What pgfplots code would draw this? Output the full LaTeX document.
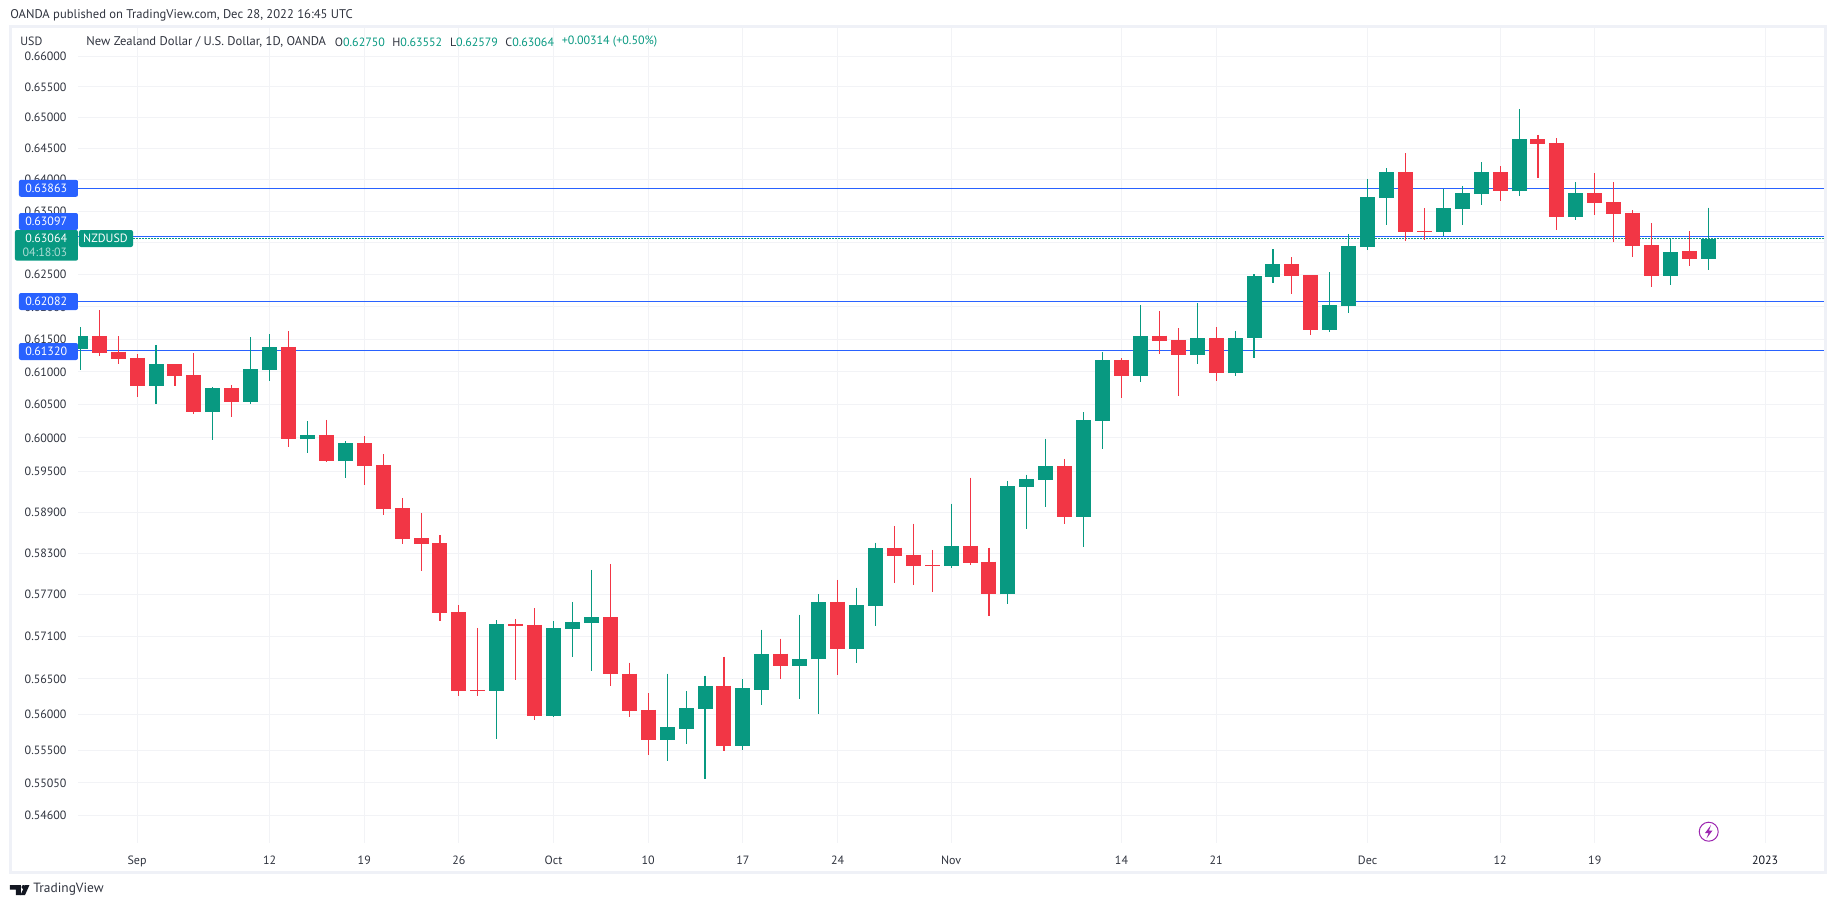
\documentclass[border=0pt]{standalone}
\usepackage{fontspec}
\setmainfont{PT Sans}
\usepackage{pgfplots}
\pgfplotsset{compat=1.18}

\definecolor{up}{HTML}{089981}
\definecolor{down}{HTML}{F23645}
\definecolor{level}{HTML}{2962FF}
\definecolor{gridc}{HTML}{F2F3F6}
\definecolor{framec}{HTML}{EFF1F7}
\definecolor{ink}{HTML}{131722}
\definecolor{soft}{HTML}{2F333E}
\definecolor{bolt}{HTML}{9C27B0}

% 1 px of the reference = 0.5pt
\newcommand{\tvfont}{\fontsize{6}{7}\selectfont}
\newcommand{\headfont}{\fontsize{6.3}{7.5}\selectfont}
% style, index, open, high, low, close
\newcommand{\candle}[6]{%
  \addplot[#1, line width=0.55pt] coordinates {(#2,#4) (#2,#5)};
  \addplot[#1, line width=7.5pt] coordinates {(#2,#3) (#2,#6)};
}
\newcommand{\lvl}[1]{%
  \addplot[level, line width=0.5pt] coordinates {(-1,#1) (93,#1)};
}

\begin{document}
\begin{tikzpicture}
\begin{axis}[
    at={(0,0)}, anchor=south west,
    scale only axis,
    width=873pt, height=407.5pt,
    ymode=log,
    xmin=-0.1215, xmax=92.11,
    ymin=0.54228, ymax=0.66468,
    axis line style={draw=none},
    major tick length=0pt,
    grid=major,
    grid style={gridc, line width=0.5pt},
    xtick={3,10,15,20,25,30,35,40,46,55,60,68,75,80,89},
    xticklabels={Sep,12,19,26,Oct,10,17,24,Nov,14,21,Dec,12,19,{\textcolor{ink}{2023}}},
    ytick={0.546,0.5505,0.555,0.56,0.565,0.571,0.577,0.583,0.589,0.595,0.6,0.605,0.61,0.615,0.62,0.625,0.63,0.635,0.64,0.645,0.65,0.655,0.66},
    yticklabels={0.54600,0.55050,0.55500,0.56000,0.56500,0.57100,0.57700,0.58300,0.58900,0.59500,0.60000,0.60500,0.61000,0.61500,0.62000,0.62500,0.63000,0.63500,0.64000,0.64500,0.65000,0.65500,0.66000},
    tick label style={font=\tvfont, text=soft},
    yticklabel style={xshift=-2.2pt},
    xticklabel style={yshift=-3pt},
]
\lvl{0.63863}
\lvl{0.63097}
\lvl{0.62082}
\lvl{0.6132}
\addplot[up, line width=0.6pt, dash pattern=on 0.6pt off 0.9pt] coordinates {(2.8,0.63064) (93,0.63064)};

\candle{up}{0}{0.61349}{0.61687}{0.61027}{0.61548}
\candle{down}{1}{0.61548}{0.61949}{0.61241}{0.61292}
\candle{down}{2}{0.61307}{0.61548}{0.61119}{0.61196}
\candle{down}{3}{0.61211}{0.61272}{0.60617}{0.60784}
\candle{up}{4}{0.60784}{0.6141}{0.60512}{0.61119}
\candle{down}{5}{0.61119}{0.61119}{0.60784}{0.60936}
\candle{down}{6}{0.60951}{0.61287}{0.60361}{0.60391}
\candle{up}{7}{0.60391}{0.60769}{0.5997}{0.60754}
\candle{down}{8}{0.60754}{0.608}{0.60316}{0.60547}
\candle{up}{9}{0.60547}{0.6153}{0.60512}{0.61043}
\candle{up}{10}{0.61027}{0.61576}{0.6086}{0.61379}
\candle{down}{11}{0.61379}{0.61625}{0.59865}{0.59985}
\candle{up}{12}{0.59985}{0.60255}{0.59775}{0.60045}
\candle{down}{13}{0.60045}{0.6027}{0.59641}{0.59656}
\candle{up}{14}{0.59656}{0.59955}{0.59404}{0.59925}
\candle{down}{15}{0.59925}{0.6003}{0.593}{0.59582}
\candle{down}{16}{0.59597}{0.5976}{0.58858}{0.58949}
\candle{down}{17}{0.58959}{0.59108}{0.58434}{0.58507}
\candle{down}{18}{0.58521}{0.58887}{0.58042}{0.58434}
\candle{down}{19}{0.58449}{0.58565}{0.5732}{0.57435}
\candle{down}{20}{0.57449}{0.5755}{0.56258}{0.56328}
\candle{down}{21}{0.56342}{0.57221}{0.56258}{0.56321}
\candle{up}{22}{0.56328}{0.57334}{0.55655}{0.57278}
\candle{down}{23}{0.57278}{0.57349}{0.56483}{0.5725}
\candle{down}{24}{0.57264}{0.57507}{0.5592}{0.55976}
\candle{up}{25}{0.55976}{0.5732}{0.5596}{0.57221}
\candle{up}{26}{0.57207}{0.57594}{0.56808}{0.57306}
\candle{up}{27}{0.57292}{0.58057}{0.5661}{0.57378}
\candle{down}{28}{0.57378}{0.58143}{0.56398}{0.56568}
\candle{down}{29}{0.56571}{0.56728}{0.55965}{0.56052}
\candle{down}{30}{0.56063}{0.56294}{0.55438}{0.55647}
\candle{up}{31}{0.55647}{0.56571}{0.55358}{0.55815}
\candle{up}{32}{0.55798}{0.56321}{0.55593}{0.56095}
\candle{up}{33}{0.5608}{0.56542}{0.55107}{0.56401}
\candle{down}{34}{0.56401}{0.56814}{0.55497}{0.55561}
\candle{up}{35}{0.55561}{0.56489}{0.55508}{0.56364}
\candle{up}{36}{0.56347}{0.57197}{0.56133}{0.56855}
\candle{down}{37}{0.56855}{0.5707}{0.56489}{0.56685}
\candle{up}{38}{0.56685}{0.57412}{0.5622}{0.56783}
\candle{up}{39}{0.56772}{0.57701}{0.56}{0.57595}
\candle{down}{40}{0.57595}{0.57913}{0.56559}{0.56926}
\candle{up}{41}{0.56926}{0.57801}{0.56728}{0.57556}
\candle{up}{42}{0.5754}{0.58453}{0.57251}{0.5838}
\candle{down}{43}{0.5838}{0.58701}{0.57874}{0.58262}
\candle{down}{44}{0.58278}{0.5873}{0.5783}{0.58115}
\candle{down}{45}{0.58132}{0.58352}{0.5774}{0.58115}
\candle{up}{46}{0.58115}{0.59026}{0.58087}{0.58408}
\candle{down}{47}{0.58408}{0.59408}{0.58132}{0.5816}
\candle{down}{48}{0.58178}{0.5838}{0.57398}{0.57701}
\candle{up}{49}{0.57701}{0.59362}{0.57568}{0.59288}
\candle{up}{50}{0.59276}{0.59454}{0.58656}{0.59392}
\candle{up}{51}{0.5938}{0.59991}{0.58979}{0.59586}
\candle{down}{52}{0.59586}{0.5969}{0.5873}{0.58831}
\candle{up}{53}{0.58831}{0.60387}{0.58397}{0.60275}
\candle{up}{54}{0.60261}{0.61297}{0.5984}{0.61184}
\candle{down}{55}{0.61184}{0.61207}{0.60603}{0.60938}
\candle{up}{56}{0.60938}{0.62029}{0.60848}{0.61552}
\candle{down}{57}{0.61552}{0.61934}{0.61276}{0.61475}
\candle{down}{58}{0.61486}{0.61671}{0.60637}{0.61263}
\candle{up}{59}{0.61263}{0.6206}{0.61119}{0.61517}
\candle{down}{60}{0.61517}{0.61689}{0.6086}{0.60983}
\candle{up}{61}{0.60983}{0.61628}{0.60938}{0.61517}
\candle{up}{62}{0.61517}{0.62508}{0.61211}{0.62477}
\candle{up}{63}{0.62461}{0.62899}{0.62367}{0.62664}
\candle{down}{64}{0.62664}{0.62774}{0.62198}{0.62477}
\candle{down}{65}{0.62492}{0.62492}{0.61563}{0.6164}
\candle{up}{66}{0.6164}{0.62539}{0.61609}{0.62026}
\candle{up}{67}{0.62011}{0.63135}{0.61903}{0.62947}
\candle{up}{68}{0.62931}{0.64008}{0.62884}{0.63722}
\candle{up}{69}{0.63706}{0.64184}{0.63278}{0.6412}
\candle{down}{70}{0.6412}{0.64423}{0.63025}{0.63167}
\candle{down}{71}{0.63182}{0.63548}{0.63041}{0.63167}
\candle{up}{72}{0.63167}{0.63849}{0.63104}{0.63548}
\candle{up}{73}{0.63532}{0.63896}{0.63278}{0.63785}
\candle{up}{74}{0.63769}{0.64281}{0.63595}{0.6412}
\candle{down}{75}{0.6412}{0.64216}{0.63658}{0.63817}
\candle{up}{76}{0.63817}{0.65136}{0.63738}{0.64651}
\candle{down}{77}{0.64651}{0.64716}{0.64024}{0.6457}
\candle{down}{78}{0.64587}{0.64667}{0.63198}{0.63405}
\candle{up}{79}{0.63405}{0.6396}{0.63358}{0.63785}
\candle{down}{80}{0.63785}{0.64104}{0.63437}{0.63627}
\candle{down}{81}{0.63642}{0.6396}{0.6301}{0.63452}
\candle{down}{82}{0.63468}{0.63516}{0.62774}{0.62947}
\candle{down}{83}{0.62962}{0.63308}{0.62305}{0.62477}
\candle{up}{84}{0.62477}{0.63057}{0.62336}{0.62853}
\candle{down}{85}{0.62868}{0.63182}{0.62633}{0.62743}
\candle{up}{86}{0.6275}{0.63552}{0.62579}{0.63064}
\end{axis}

% everything round the axis, in reference pixels
\begin{scope}[x=0.5pt, y=-0.5pt, shift={(-78,-843)}, font=\tvfont]
\path (0,0) rectangle (1834,907);
\draw[framec, line width=1.5pt] (10.5,27) rectangle (1825.5,872);

\node[anchor=west, inner sep=0, text=soft, font=\headfont] at (10,15) {OANDA published on TradingView.com, Dec 28, 2022 16:45 UTC};
\node[anchor=west, inner sep=0, text=soft] at (20,41) {USD};
\node[anchor=west, inner sep=0, text=soft, font=\headfont] at (86,42) {New Zealand Dollar / U.S. Dollar, 1D, OANDA};
\node[anchor=west, inner sep=0, text=soft] at (334.5,42) {O\textcolor{up}{0.62750}};
\node[anchor=west, inner sep=0, text=soft] at (392,42) {H\textcolor{up}{0.63552}};
\node[anchor=west, inner sep=0, text=soft] at (449.6,42) {L\textcolor{up}{0.62579}};
\node[anchor=west, inner sep=0, text=soft] at (505,42) {C\textcolor{up}{0.63064}};
\node[anchor=west, inner sep=0, text=up] at (561.5,42) {+0.00314 (+0.50\%)};

% price tags
\foreach \yy/\txt in {188.3/0.63863, 221.5/0.63097, 301.5/0.62082, 351.5/0.61320}{
  \fill[level, rounded corners=1pt] (19,\yy-8.5) rectangle (78,\yy+8.5);
  \node[anchor=east, inner sep=0, text=white] at (67.5,\yy) {\txt};
}
\fill[up, rounded corners=1pt] (15,230) rectangle (78,260.7);
\node[anchor=east, inner sep=0, text=white] at (67.5,238.7) {0.63064};
\node[anchor=east, inner sep=0, text=white!65!up] at (67.5,252.7) {04:18:03};
\fill[up, rounded corners=1pt] (79,230) rectangle (133,247);
\node[inner sep=0, text=white] at (105.5,238.7) {NZDUSD};

% session icon
\draw[bolt, line width=0.5pt] (1708.7,831.7) circle (9.5);
\fill[bolt] (1711,825) -- (1705,833) -- (1708.5,833) -- (1706.5,838.5) -- (1712.5,830.5) -- (1709,830.5) -- cycle;

% logo
\fill[ink] (10,885) -- (21,885) -- (21,895) -- (16,895) -- (16,889.5) -- (10,889.5) -- cycle;
\fill[ink] (23.5,887) circle (2);
\fill[ink] (29.5,885) -- (25,895) -- (20.5,895) -- (25,885) -- cycle;
\node[anchor=west, inner sep=0, text=soft, font=\fontsize{6.7}{8}\selectfont] at (33,889) {TradingView};
\end{scope}
\end{tikzpicture}
\end{document}
